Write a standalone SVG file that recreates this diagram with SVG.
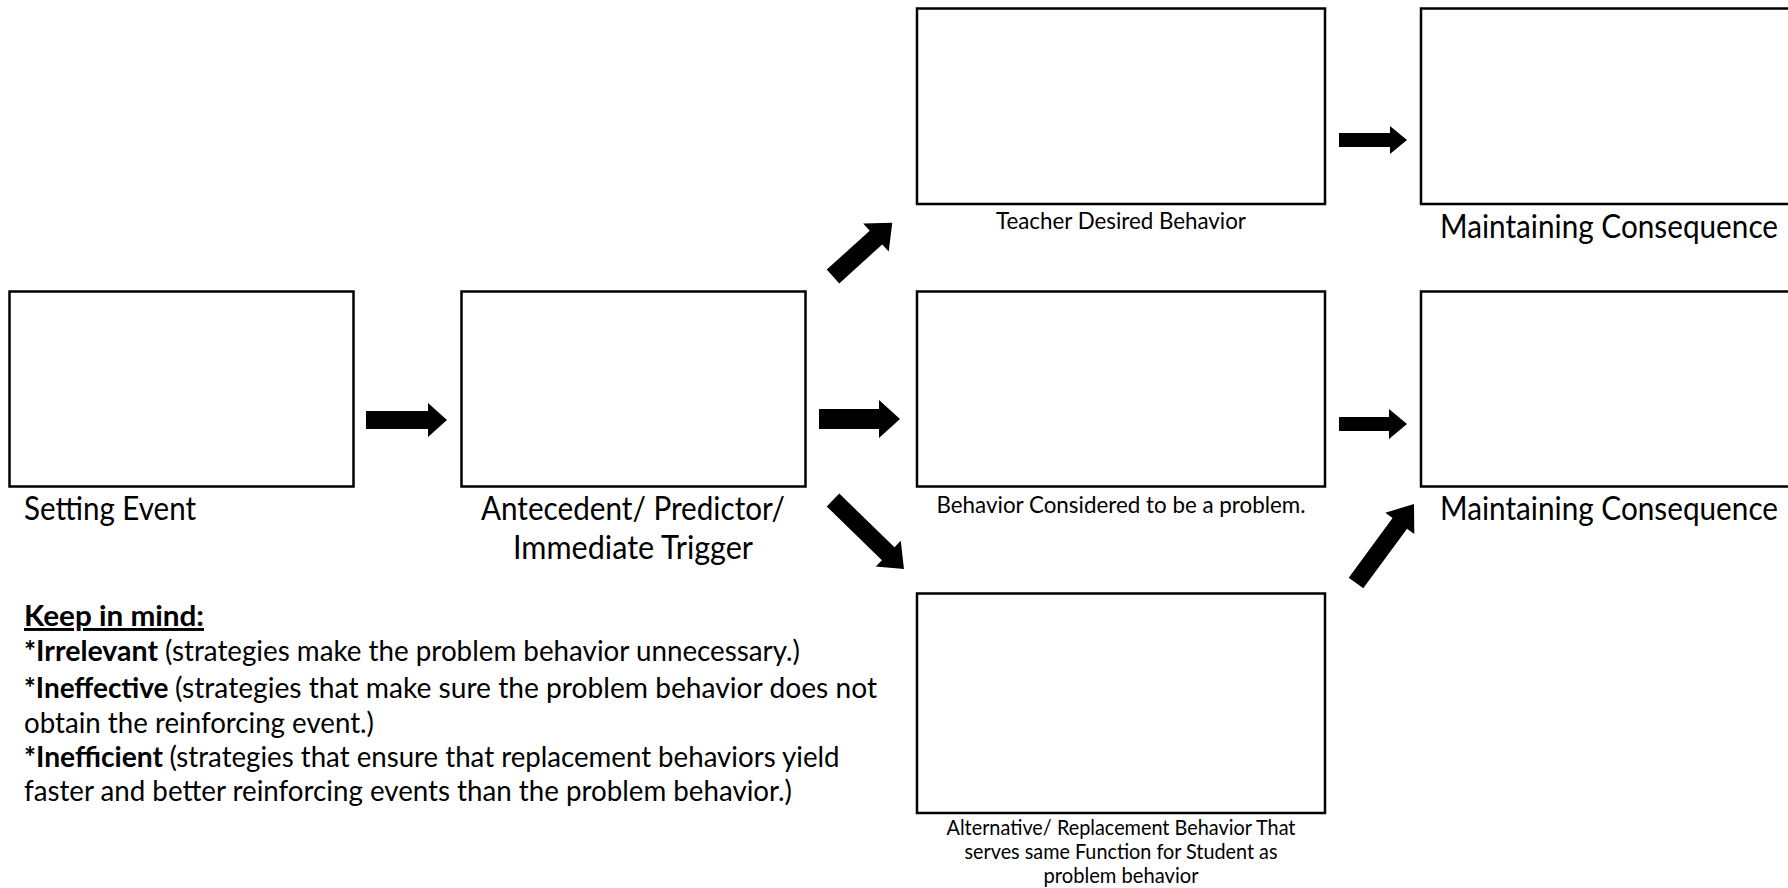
<svg xmlns="http://www.w3.org/2000/svg" width="1788" height="888" viewBox="0 0 1788 888">
<style>
.box{fill:#fff;stroke:#000;stroke-width:2.5}
.arr{fill:#000}
.lbl{font-family:Lato,"Liberation Sans",sans-serif;fill:#000}
.big{font-size:32px}
.mid{font-size:24px}
.sm{font-size:21.33px}
.kp{font-size:29.33px}
.b{font-weight:bold}
</style>
<rect width="1788" height="888" fill="#fff"/>
<g id="setting-event">
<rect class="box" x="9.5" y="291.5" width="344" height="195"/>
<text class="lbl big" x="24" y="520" textLength="172" lengthAdjust="spacingAndGlyphs">Setting Event</text>
</g>
<g id="antecedent">
<rect class="box" x="461.5" y="291.5" width="344" height="195"/>
<text class="lbl big" x="633" y="520" text-anchor="middle" textLength="304" lengthAdjust="spacingAndGlyphs">Antecedent/ Predictor/</text>
<text class="lbl big" x="633" y="559" text-anchor="middle" textLength="240" lengthAdjust="spacingAndGlyphs">Immediate Trigger</text>
</g>
<g id="teacher-desired">
<rect class="box" x="917" y="8.5" width="408" height="195.5"/>
<text class="lbl mid" x="1121" y="228.5" text-anchor="middle" textLength="250" lengthAdjust="spacingAndGlyphs">Teacher Desired Behavior</text>
</g>
<g id="problem-behavior">
<rect class="box" x="917" y="291.5" width="408" height="195"/>
<text class="lbl mid" x="1121" y="512.5" text-anchor="middle" textLength="369" lengthAdjust="spacingAndGlyphs">Behavior Considered to be a problem.</text>
</g>
<g id="alternative-behavior">
<rect class="box" x="917" y="593.5" width="408" height="219.5"/>
<text class="lbl sm" x="1121" y="835" text-anchor="middle" textLength="349" lengthAdjust="spacingAndGlyphs">Alternative/ Replacement Behavior That</text>
<text class="lbl sm" x="1121" y="859" text-anchor="middle" textLength="313" lengthAdjust="spacingAndGlyphs">serves same Function for Student as</text>
<text class="lbl sm" x="1121" y="883" text-anchor="middle" textLength="155" lengthAdjust="spacingAndGlyphs">problem behavior</text>
</g>
<g id="maintaining-top">
<rect class="box" x="1421" y="8.5" width="400" height="195.5"/>
<text class="lbl big" x="1440" y="238" textLength="338" lengthAdjust="spacingAndGlyphs">Maintaining Consequence</text>
</g>
<g id="maintaining-bottom">
<rect class="box" x="1421" y="291.5" width="400" height="195"/>
<text class="lbl big" x="1440" y="520" textLength="338" lengthAdjust="spacingAndGlyphs">Maintaining Consequence</text>
</g>
<g id="keep-in-mind">
<text class="lbl kp b" x="24" y="626" text-decoration="underline" textLength="180" lengthAdjust="spacingAndGlyphs">Keep in mind:</text>
<text class="lbl kp b" x="24" y="661" textLength="134" lengthAdjust="spacingAndGlyphs">*Irrelevant</text>
<text class="lbl kp" x="165" y="661" textLength="635" lengthAdjust="spacingAndGlyphs">(strategies make the problem behavior unnecessary.)</text>
<text class="lbl kp b" x="24" y="698" textLength="144.5" lengthAdjust="spacingAndGlyphs">*Ineffective</text>
<text class="lbl kp" x="175" y="698" textLength="702" lengthAdjust="spacingAndGlyphs">(strategies that make sure the problem behavior does not</text>
<text class="lbl kp" x="24" y="733" textLength="350" lengthAdjust="spacingAndGlyphs">obtain the reinforcing event.)</text>
<text class="lbl kp b" x="24" y="767" textLength="139" lengthAdjust="spacingAndGlyphs">*Inefficient</text>
<text class="lbl kp" x="169.5" y="767" textLength="670" lengthAdjust="spacingAndGlyphs">(strategies that ensure that replacement behaviors yield</text>
<text class="lbl kp" x="24" y="801" textLength="768" lengthAdjust="spacingAndGlyphs">faster and better reinforcing events than the problem behavior.)</text>
</g>
<g id="connectors">
<polygon class="arr" transform="translate(366,420)" points="0,-9 62,-9 62,-17 81,0 62,17 62,9 0,9"/>
<polygon class="arr" transform="translate(819,419)" points="0,-10 60,-10 60,-19 81,0 60,19 60,10 0,10"/>
<polygon class="arr" transform="translate(1339,424)" points="0,-7 50,-7 50,-15 68,0 50,15 50,7 0,7"/>
<polygon class="arr" transform="translate(1339,140)" points="0,-7 51,-7 51,-14 68,0 51,14 51,7 0,7"/>
<polygon class="arr" transform="translate(833,276.5) rotate(-42.2)" points="0,-9.3 58,-9.3 58,-19 80,0 58,19 58,9.3 0,9.3"/>
<polygon class="arr" transform="translate(833,500) rotate(44.2)" points="0,-9 77,-9 77,-18 99,0 77,18 77,9 0,9"/>
<polygon class="arr" transform="translate(1356,583) rotate(-53.7)" points="0,-9 74,-9 74,-18 98,0 74,18 74,9 0,9"/>
</g>
</svg>
